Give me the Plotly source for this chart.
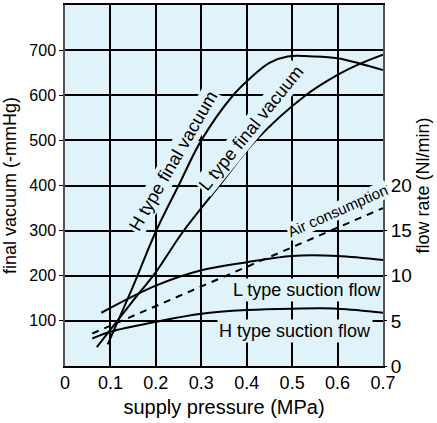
import plotly.graph_objects as go

# ---- data ----
h_vac_x = [0.094, 0.15, 0.2, 0.25, 0.3, 0.37, 0.41, 0.45, 0.49, 0.55, 0.6, 0.65, 0.7]
h_vac_y = [48, 177, 298, 400, 500, 600, 640, 672, 686, 686, 682, 670, 656]

l_vac_x = [0.07, 0.15, 0.2, 0.26, 0.34, 0.42, 0.53, 0.6, 0.65, 0.7]
l_vac_y = [42, 145, 208, 298, 400, 500, 600, 645, 670, 690]

air_x = [0.06, 0.7]
air_y = [3.6, 17.5]

l_suc_x = [0.08, 0.2, 0.3, 0.4, 0.5, 0.6, 0.7]
l_suc_y = [5.9, 8.9, 10.6, 11.5, 12.2, 12.2, 11.75]

h_suc_x = [0.06, 0.1, 0.2, 0.3, 0.4, 0.5, 0.6, 0.7]
h_suc_y = [3.05, 3.8, 4.9, 5.8, 6.2, 6.35, 6.35, 5.9]

x_ticks = [0, 0.1, 0.2, 0.3, 0.4, 0.5, 0.6, 0.7]
x_tick_text = ["0", "0.1", "0.2", "0.3", "0.4", "0.5", "0.6", "0.7"]
y_ticks = [100, 200, 300, 400, 500, 600, 700]
y2_ticks = [0, 5, 10, 15, 20]

BG = "#e0f3fb"
FONT = "Liberation Sans, Arial, Helvetica, sans-serif"
LW = 2

fig = go.Figure()
fig.add_trace(go.Scatter(x=h_vac_x, y=h_vac_y, mode="lines", line=dict(color="black", width=LW, shape="spline"), yaxis="y", showlegend=False))
fig.add_trace(go.Scatter(x=l_vac_x, y=l_vac_y, mode="lines", line=dict(color="black", width=LW, shape="spline"), yaxis="y", showlegend=False))
fig.add_trace(go.Scatter(x=air_x, y=air_y, mode="lines", line=dict(color="black", width=LW, dash="7px,6px"), yaxis="y2", showlegend=False))
fig.add_trace(go.Scatter(x=l_suc_x, y=l_suc_y, mode="lines", line=dict(color="black", width=LW, shape="spline"), yaxis="y2", showlegend=False))
fig.add_trace(go.Scatter(x=h_suc_x, y=h_suc_y, mode="lines", line=dict(color="black", width=LW, shape="spline"), yaxis="y2", showlegend=False))

ann_font = dict(family=FONT, size=18, color="black")
annotations = [
    dict(x=0.238, y=455, text="H type final vacuum", textangle=-60),
    dict(x=0.41, y=527, text="L type final vacuum", textangle=-51),
    dict(x=0.532, y=169, text="L type suction flow", textangle=0),
    dict(x=0.507, y=78, text="H type suction flow", textangle=0),
]
for a in annotations:
    fig.add_annotation(xref="x", yref="y", showarrow=False, font=ann_font,
                       bgcolor=BG, borderpad=1, **a)
fig.add_annotation(xref="x", yref="y", x=0.601, y=344, text="Air consumption", textangle=-24,
                   showarrow=False, bgcolor=BG, borderpad=0,
                   font=dict(family="Liberation Sans Narrow, Arial Narrow, " + FONT, size=15, color="black"))

fig.update_layout(
    width=437, height=423, autosize=False,
    margin=dict(l=65, r=54, t=3, b=57),
    paper_bgcolor="white", plot_bgcolor=BG,
    font=dict(family=FONT, size=17, color="black"),
    xaxis=dict(range=[0, 0.7], tickvals=x_ticks, ticktext=x_tick_text,
               showgrid=True, gridcolor="black", gridwidth=1.5, zeroline=False,
               showline=True, mirror=True, linecolor="black", linewidth=1.5,
               ticks="", tickfont=dict(size=18),
               title=dict(text="supply pressure (MPa)", font=dict(size=20), standoff=8)),
    yaxis=dict(range=[0, 800], tickvals=y_ticks,
               showgrid=True, gridcolor="black", gridwidth=1.5, zeroline=False,
               showline=True, mirror=True, linecolor="#555", linewidth=1.5,
               ticks="outside", ticklen=4, tickcolor="black", tickfont=dict(size=16),
               title=dict(text="final vacuum (-mmHg)", font=dict(size=18), standoff=8)),
    yaxis2=dict(range=[0, 40], tickvals=y2_ticks, overlaying="y", side="right",
                showgrid=False, zeroline=False, showline=False,
                ticks="outside", ticklen=3, tickcolor="black", tickfont=dict(size=19),
                title=dict(text="flow rate (Nl/min)", font=dict(size=18), standoff=5)),
)

fig.write_html("out.html", config={"displayModeBar": False},
               post_script="document.body.style.margin='0';")
